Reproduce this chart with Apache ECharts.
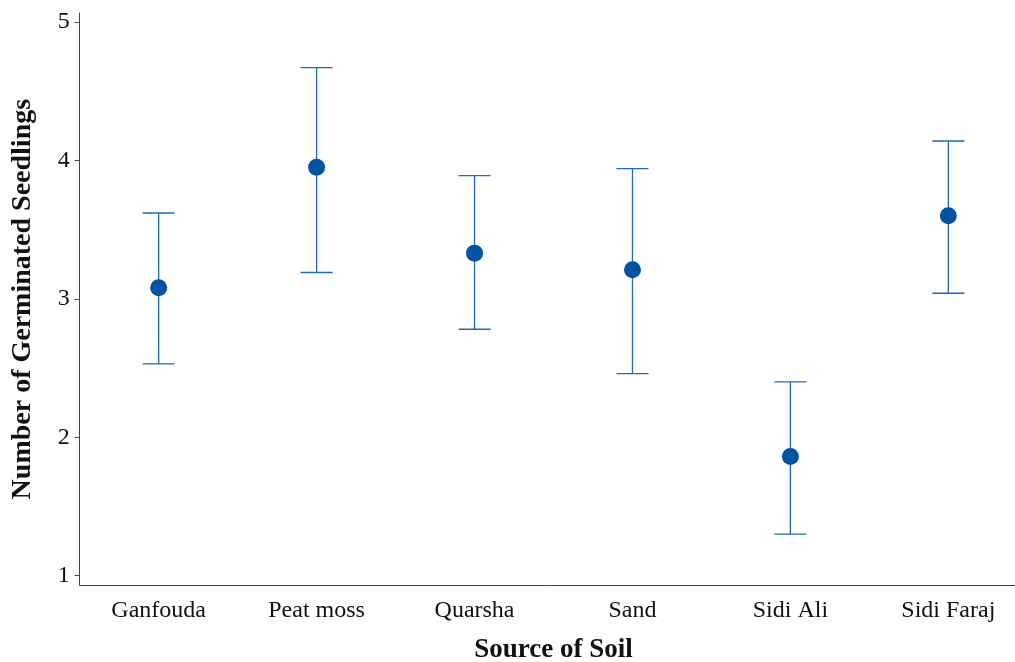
<!DOCTYPE html>
<html>
<head>
<meta charset="utf-8">
<script src="https://cdn.jsdelivr.net/npm/echarts@6/dist/echarts.min.js"></script>
<style>html,body{margin:0;padding:0;background:#fff}#c{width:1015px;height:662px}</style>
</head>
<body>
<div id="c"></div>
<script>
const categories = ['Ganfouda', 'Peat moss', 'Quarsha', 'Sand', 'Sidi Ali', 'Sidi Faraj'];
const means = [3.08, 3.95, 3.33, 3.21, 1.86, 3.60];
const lowers = [2.53, 3.19, 2.78, 2.46, 1.30, 3.04];
const uppers = [3.62, 4.67, 3.89, 3.94, 2.40, 4.14];
const yTicks = [1, 2, 3, 4, 5];

const FONT = '"Liberation Serif", "Times New Roman", serif';
const errData = categories.map((c, i) => [i, lowers[i], uppers[i]]);

const chart = echarts.init(document.getElementById('c'));
chart.setOption({
  animation: false,
  backgroundColor: '#fff',
  grid: { left: 79.7, top: 13, right: -12.3, bottom: 76.7, containLabel: false, outerBoundsMode: 'none' },
  xAxis: {
    type: 'category',
    data: categories,
    boundaryGap: true,
    name: 'Source of Soil',
    nameLocation: 'middle',
    nameGap: 51,
    nameTextStyle: { fontFamily: FONT, fontSize: 27, fontWeight: 'bold', color: '#111' },
    axisLine: { lineStyle: { color: '#444', width: 1 } },
    axisTick: { alignWithLabel: true, length: 5, lineStyle: { color: '#444' } },
    axisLabel: { fontFamily: FONT, fontSize: 24, color: '#111', margin: 13 },
    splitLine: { show: false }
  },
  yAxis: {
    type: 'value',
    min: 0.93,
    max: 5.065,
    name: 'Number of Germinated Seedlings',
    nameLocation: 'middle',
    nameGap: 43,
    nameRotate: 90,
    nameTextStyle: { fontFamily: FONT, fontSize: 28, fontWeight: 'bold', color: '#111' },
    axisLine: { show: true, lineStyle: { color: '#444', width: 1 } },
    axisTick: { show: true, length: 5, customValues: yTicks, lineStyle: { color: '#444' } },
    axisLabel: { fontFamily: FONT, fontSize: 24, color: '#111', margin: 10, customValues: yTicks },
    splitLine: { show: false }
  },
  series: [
    {
      type: 'custom',
      data: errData,
      encode: { x: 0, y: [1, 2] },
      renderItem: function (params, api) {
        const x = api.value(0);
        const lo = api.coord([x, api.value(1)]);
        const hi = api.coord([x, api.value(2)]);
        const hw = 16;
        const style = { stroke: '#2169b8', lineWidth: 1.3 };
        return {
          type: 'group',
          children: [
            { type: 'line', shape: { x1: lo[0], y1: lo[1], x2: hi[0], y2: hi[1] }, style: style },
            { type: 'line', shape: { x1: hi[0] - hw, y1: hi[1], x2: hi[0] + hw, y2: hi[1] }, style: style },
            { type: 'line', shape: { x1: lo[0] - hw, y1: lo[1], x2: lo[0] + hw, y2: lo[1] }, style: style }
          ]
        };
      },
      z: 2
    },
    {
      type: 'scatter',
      data: means,
      symbol: 'circle',
      symbolSize: 17,
      itemStyle: { color: '#0053a3', opacity: 1 },
      z: 3
    }
  ]
});
</script>
</body>
</html>
